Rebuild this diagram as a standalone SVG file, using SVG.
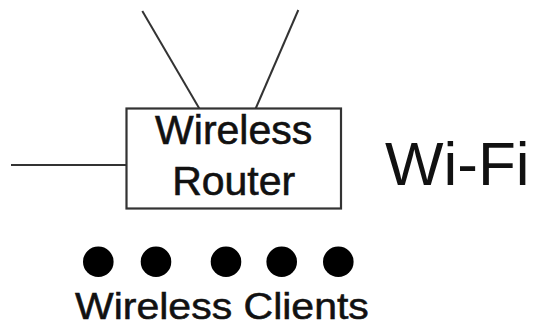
<svg xmlns="http://www.w3.org/2000/svg" width="535" height="327" viewBox="0 0 535 327">
<style>
.ln{stroke:#333;stroke-width:2;fill:none}
.box{fill:#fff;stroke:#333;stroke-width:2.2}
.t{font-family:"Liberation Sans",Arial,sans-serif;fill:#111}
.h{stroke:#111;stroke-width:0.6}
.dot{fill:#000}
</style>
<rect width="535" height="327" fill="#fff"/>
<g id="connectors">
<line class="ln" x1="142.3" y1="11" x2="199.3" y2="108.5"/>
<line class="ln" x1="298.3" y1="10" x2="255.7" y2="108.5"/>
<line class="ln" x1="11" y1="165" x2="126.5" y2="165"/>
</g>
<g id="router">
<rect class="box" x="126.5" y="108.5" width="214.5" height="100"/>
<text class="t h" x="233.7" y="144" font-size="41" text-anchor="middle">Wireless</text>
<text class="t h" x="233.7" y="195" font-size="41" text-anchor="middle">Router</text>
</g>
<g id="wifi">
<text class="t" x="385" y="185" font-size="62" fill="#000">Wi-Fi</text>
</g>
<g id="clients">
<circle class="dot" cx="98.3" cy="261.7" r="15.3"/>
<circle class="dot" cx="156" cy="261.7" r="15.3"/>
<circle class="dot" cx="226" cy="261.7" r="15.3"/>
<circle class="dot" cx="281.7" cy="261.7" r="15.3"/>
<circle class="dot" cx="338.3" cy="261.7" r="15.3"/>
<text class="t h" font-size="41" transform="translate(75 319.3) scale(1 0.88)">Wireless Clients</text>
</g>
</svg>
